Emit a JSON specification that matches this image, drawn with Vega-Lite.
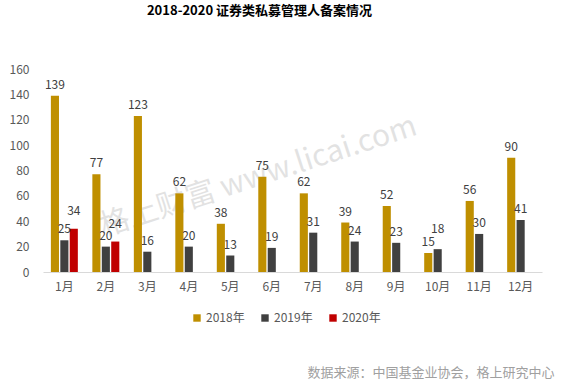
{
  "$schema": "https://vega.github.io/schema/vega-lite/v6.json",
  "width": 499,
  "height": 203,
  "autosize": {"type": "none"},
  "padding": {"left": 43, "top": 69, "right": 21, "bottom": 114},
  "background": "white",
  "config": {
    "view": {"stroke": null},
    "font": "Noto Sans CJK SC"
  },
  "title": {
    "text": "2018-2020 证券类私募管理人备案情况",
    "fontSize": 13,
    "fontWeight": "bold",
    "color": "#000000",
    "anchor": "middle",
    "frame": "bounds",
    "dx": -22,
    "offset": 45
  },
  "data": {
    "values": [
      {"month": "1月", "year": "2018年", "value": 139},
      {"month": "1月", "year": "2019年", "value": 25},
      {"month": "1月", "year": "2020年", "value": 34},
      {"month": "2月", "year": "2018年", "value": 77},
      {"month": "2月", "year": "2019年", "value": 20},
      {"month": "2月", "year": "2020年", "value": 24},
      {"month": "3月", "year": "2018年", "value": 123},
      {"month": "3月", "year": "2019年", "value": 16},
      {"month": "4月", "year": "2018年", "value": 62},
      {"month": "4月", "year": "2019年", "value": 20},
      {"month": "5月", "year": "2018年", "value": 38},
      {"month": "5月", "year": "2019年", "value": 13},
      {"month": "6月", "year": "2018年", "value": 75},
      {"month": "6月", "year": "2019年", "value": 19},
      {"month": "7月", "year": "2018年", "value": 62},
      {"month": "7月", "year": "2019年", "value": 31},
      {"month": "8月", "year": "2018年", "value": 39},
      {"month": "8月", "year": "2019年", "value": 24},
      {"month": "9月", "year": "2018年", "value": 52},
      {"month": "9月", "year": "2019年", "value": 23},
      {"month": "10月", "year": "2018年", "value": 15},
      {"month": "10月", "year": "2019年", "value": 18},
      {"month": "11月", "year": "2018年", "value": 56},
      {"month": "11月", "year": "2019年", "value": 30},
      {"month": "12月", "year": "2018年", "value": 90},
      {"month": "12月", "year": "2019年", "value": 41}
    ]
  },
  "encoding": {
    "x": {
      "field": "month",
      "type": "nominal",
      "sort": ["1月","2月","3月","4月","5月","6月","7月","8月","9月","10月","11月","12月"],
      "scale": {"paddingInner": 0.35, "paddingOuter": 0.19},
      "axis": {
        "title": "数据来源：中国基金业协会，格上研究中心",
        "titleFontSize": 13,
        "titleFontWeight": "normal",
        "titleColor": "#a0a0a0",
        "titleAnchor": "end",
        "titleAlign": "right",
        "titleBaseline": "middle",
        "titleX": 511,
        "titleY": 100,
        "labelAngle": 0,
        "labelFontSize": 12,
        "labelColor": "#595959",
        "labelPadding": 9,
        "ticks": false,
        "domainColor": "#d9d9d9",
        "domainWidth": 1
      }
    },
    "xOffset": {
      "field": "year",
      "type": "nominal",
      "scale": {"domain": ["2018年", "2019年", "2020年"], "paddingInner": 0.14}
    },
    "y": {
      "field": "value",
      "type": "quantitative",
      "scale": {"domain": [0, 160]},
      "axis": {
        "title": null,
        "values": [0, 20, 40, 60, 80, 100, 120, 140, 160],
        "grid": false,
        "domain": false,
        "ticks": false,
        "labelFontSize": 12,
        "labelColor": "#595959",
        "labelPadding": 14
      }
    }
  },
  "layer": [
    {
      "data": {"values": [{"mark": "格上财富  www.licai.com", "month": "6月", "value": 75}]},
      "mark": {"type": "text", "angle": 342, "fontSize": 30, "color": "#000000", "opacity": 0.11, "baseline": "middle", "align": "center"},
      "encoding": {
        "text": {"field": "mark", "type": "nominal"},
        "x": {"field": "month", "type": "nominal"},
        "xOffset": {"value": 0},
        "y": {"field": "value", "type": "quantitative"}
      }
    },
    {
      "mark": {"type": "bar"},
      "encoding": {
        "color": {
          "field": "year",
          "type": "nominal",
          "scale": {"domain": ["2018年", "2019年", "2020年"], "range": ["#BF8F00", "#404040", "#C00000"]},
          "legend": {
            "title": null,
            "orient": "none",
            "direction": "horizontal",
            "legendX": 148,
            "legendY": 243,
            "symbolType": "square",
            "symbolSize": 55,
            "symbolStrokeWidth": 0,
            "labelFontSize": 12,
            "labelColor": "#595959",
            "labelOffset": 3,
            "columnPadding": 14
          }
        }
      }
    },
    {
      "transform": [{"filter": "datum.year != '2020年' && !(datum.month == '10月' && datum.year == '2019年')"}],
      "mark": {"type": "text", "baseline": "bottom", "dy": -4, "fontSize": 12, "color": "#404040"},
      "encoding": {
        "text": {"field": "value", "type": "quantitative"}
      }
    },
    {
      "transform": [{"filter": "datum.year == '2020年'"}],
      "mark": {"type": "text", "baseline": "bottom", "dy": -11, "fontSize": 12, "color": "#404040"},
      "encoding": {
        "text": {"field": "value", "type": "quantitative"}
      }
    },
    {
      "transform": [{"filter": "datum.month == '10月' && datum.year == '2019年'"}],
      "mark": {"type": "text", "baseline": "bottom", "dy": -13, "fontSize": 12, "color": "#404040"},
      "encoding": {
        "text": {"field": "value", "type": "quantitative"}
      }
    }
  ]
}
